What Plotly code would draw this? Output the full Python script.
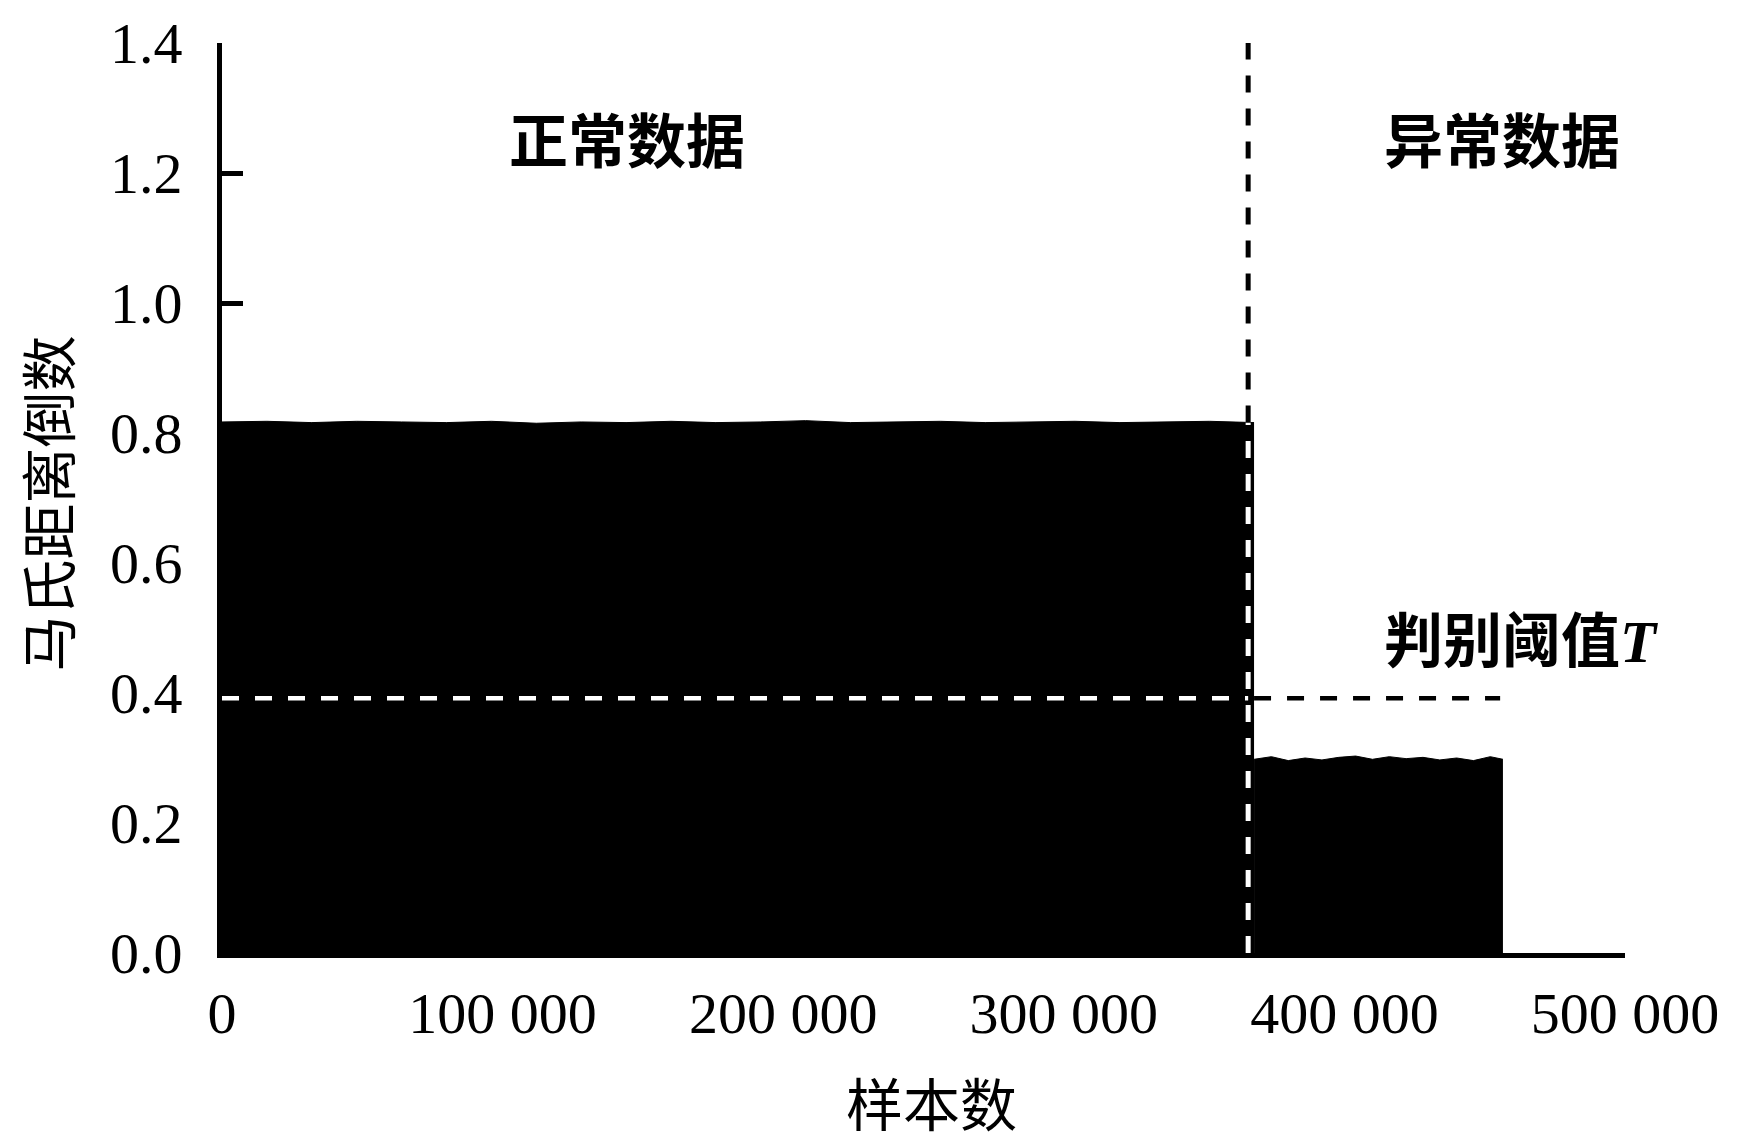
import plotly.graph_objects as go

# ---- data ----
normal_x = [0, 16000, 32000, 48000, 64000, 80000, 96000, 112000, 128000, 144000,
            160000, 176000, 192000, 208000, 224000, 240000, 256000, 272000, 288000,
            304000, 320000, 336000, 352000, 367800]
normal_top = [0.817, 0.818, 0.816, 0.818, 0.817, 0.816, 0.818, 0.815, 0.817, 0.816,
              0.818, 0.816, 0.817, 0.819, 0.816, 0.817, 0.818, 0.816, 0.817, 0.818,
              0.816, 0.817, 0.818, 0.816]
abnormal_x = [367800, 374000, 380000, 386000, 392000, 398000, 404000, 410000, 416000,
              422000, 428000, 434000, 440000, 446000, 452000, 456500]
abnormal_top = [0.298, 0.302, 0.296, 0.300, 0.297, 0.301, 0.303, 0.298, 0.302, 0.299,
                0.301, 0.297, 0.300, 0.296, 0.302, 0.298]
split_x = 365700          # vertical dashed separator
threshold_T = 0.392       # discrimination threshold
threshold_end = 455500
y_max = 1.4
x_ticks = [0, 100000, 200000, 300000, 400000, 500000]
x_ticktext = ["0", "100 000", "200 000", "300 000", "400 000", "500 000"]
y_ticks = [0.0, 0.2, 0.4, 0.6, 0.8, 1.0, 1.2, 1.4]

CJK = "Noto Sans CJK SC"
SERIF = "Liberation Serif"

fig = go.Figure()
fig.add_trace(go.Scatter(x=normal_x, y=normal_top, mode="lines", fill="tozeroy",
                         fillcolor="black", line=dict(color="black", width=1),
                         hoverinfo="skip"))
fig.add_trace(go.Scatter(x=abnormal_x, y=abnormal_top, mode="lines", fill="tozeroy",
                         fillcolor="black", line=dict(color="black", width=1),
                         hoverinfo="skip"))

# vertical separator: white over black region, black above
fig.add_trace(go.Scatter(x=[split_x, split_x], y=[0, normal_top[-1]], mode="lines",
                         line=dict(color="white", width=5, dash="17px,16px")))
fig.add_trace(go.Scatter(x=[split_x, split_x], y=[normal_top[-1], y_max], mode="lines",
                         line=dict(color="black", width=5, dash="17px,16px")))
# threshold line: white over normal data, black to the right
fig.add_trace(go.Scatter(x=[0, split_x], y=[threshold_T, threshold_T], mode="lines",
                         line=dict(color="white", width=4.5, dash="17px,16px")))
fig.add_trace(go.Scatter(x=[normal_x[-1], threshold_end], y=[threshold_T, threshold_T],
                         mode="lines",
                         line=dict(color="black", width=4.5, dash="17px,16px")))

fig.add_annotation(x=101600, y=1.255, xref="x", yref="y", text="正常数据",
                   showarrow=False, xanchor="left", yanchor="middle",
                   font=dict(family=CJK, size=59, color="black", weight="bold"))
fig.add_annotation(x=413400, y=1.255, xref="x", yref="y", text="异常数据",
                   showarrow=False, xanchor="left", yanchor="middle",
                   font=dict(family=CJK, size=59, color="black", weight="bold"))
fig.add_annotation(x=413400, y=0.478, xref="x", yref="y", text="判别阈值<i>T</i>",
                   showarrow=False, xanchor="left", yanchor="middle",
                   font=dict(family=SERIF + ", " + CJK, size=59, color="black",
                             weight="bold"))

# axis titles
fig.add_annotation(x=-0.1265, y=0.4934, xref="paper", yref="paper", text="马氏距离倒数",
                   showarrow=False, textangle=-90, xanchor="center", yanchor="middle",
                   font=dict(family=CJK, size=56, color="black"))
fig.add_annotation(x=0.506, y=-0.1626, xref="paper", yref="paper", text="样本数",
                   showarrow=False, xanchor="center", yanchor="middle",
                   font=dict(family=CJK, size=57, color="black"))

fig.update_layout(
    width=1731, height=1134,
    margin=dict(l=214, r=114, t=35, b=189),
    paper_bgcolor="white", plot_bgcolor="white",
    showlegend=False,
    font=dict(family=SERIF, color="black"),
)
fig.update_xaxes(range=[0, 500000], tickvals=x_ticks, ticktext=x_ticktext,
                 automargin=False,
                 showgrid=False, zeroline=False, showline=True, linecolor="black",
                 linewidth=5, ticks="inside", ticklen=21, tickwidth=4.5,
                 tickcolor="black", ticklabelstandoff=5,
                 tickfont=dict(family=SERIF, size=58, color="black"))
fig.update_yaxes(range=[0, y_max], tickvals=y_ticks, tickformat=".1f",
                 automargin=False,
                 showgrid=False, zeroline=False, showline=True, linecolor="black",
                 linewidth=5, ticks="inside", ticklen=21, tickwidth=4.5,
                 tickcolor="black", ticklabelstandoff=23,
                 tickfont=dict(family=SERIF, size=58, color="black"))

fig.write_html("out.html")
